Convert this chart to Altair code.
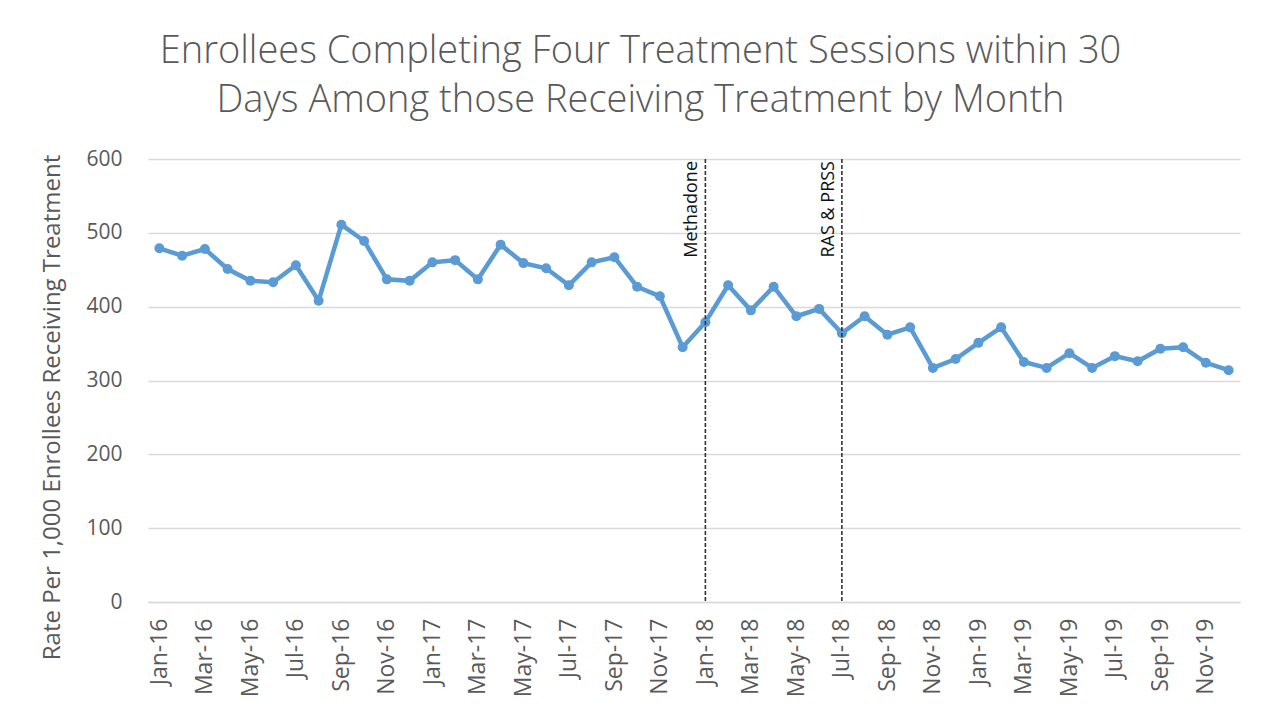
import altair as alt
import pandas as pd

months = ["Jan", "Feb", "Mar", "Apr", "May", "Jun", "Jul", "Aug", "Sep", "Oct", "Nov", "Dec"]
years = ["16", "17", "18", "19"]
labels = [f"{m}-{y}" for y in years for m in months]

rates = [479, 469, 478, 451, 435, 433, 456, 408, 511, 489, 437, 435,
         460, 463, 437, 484, 459, 452, 429, 460, 467, 427, 414, 345,
         379, 429, 395, 427, 387, 397, 364, 387, 362, 372, 317, 329,
         351, 372, 325, 317, 337, 317, 333, 326, 343, 345, 324, 314]

event_months = ["Jan-18", "Jul-18"]
event_names = ["Methadone", "RAS & PRSS"]
y_ticks = [0, 100, 200, 300, 400, 500, 600]

df = pd.DataFrame({"month": labels, "rate": rates})
ev = pd.DataFrame({"month": event_months, "name": event_names, "top": [600, 600], "bottom": [0, 0]})

tick_vals = labels[::2]

xscale = alt.Scale(type="point", domain=labels, padding=0.5)
yscale = alt.Scale(domain=[0, 600])

x_enc = alt.X("month:O", scale=xscale, sort=labels,
              axis=alt.Axis(values=tick_vals, labelAngle=-90, title=None, labelFontSize=23,
                            labelColor="#595959", labelFont="Open Sans", ticks=False,
                            domainColor="#D9D9D9", domainWidth=1.5, labelPadding=16,
                            grid=False, labelBaseline="middle", labelAlign="right"))

line = alt.Chart(df).mark_line(color="#5B9BD5", strokeWidth=4.5,
                               point=alt.OverlayMarkDef(color="#5B9BD5", size=100, opacity=1)).encode(
    x=x_enc,
    y=alt.Y("rate:Q", scale=yscale,
            axis=alt.Axis(values=y_ticks, title="Rate Per 1,000 Enrollees Receiving  Treatment",
                          titleFontSize=24, titleFont="Open Sans", titleFontWeight="normal", titleColor="#595959",
                          labelFontSize=21, labelFont="Open Sans", labelColor="#595959",
                          ticks=False, domain=False, gridColor="#D9D9D9", gridWidth=1.3,
                          labelPadding=26, titlePadding=21, titleY=248))
)

rules = alt.Chart(ev).mark_rule(color="#333333", strokeDash=[4, 2], strokeWidth=1.6).encode(
    x=alt.X("month:O", scale=xscale, sort=labels),
    y=alt.Y("top:Q", scale=yscale),
    y2="bottom:Q",
)

texts = alt.Chart(ev).mark_text(angle=270, align="right", baseline="alphabetic", fontSize=18,
                                font="Open Sans", color="#111111", dx=-2, dy=-8).encode(
    x=alt.X("month:O", scale=xscale, sort=labels),
    y=alt.Y("top:Q", scale=yscale),
    text="name:N",
)

chart = alt.layer(line, rules, texts).properties(
    width=1092, height=443,
    background="white",
    title=alt.TitleParams(
        text=["Enrollees Completing Four Treatment Sessions within 30",
              "Days Among those Receiving Treatment by Month"],
        fontSize=38, font="Open Sans", fontWeight=300, color="#595959",
        anchor="middle", frame="bounds", lineHeight=49, offset=28,
    ),
    autosize="none",
    padding={"left": 140, "top": 151, "right": 17, "bottom": 113},
).configure_view(strokeWidth=0, stroke=None)

chart.save("out.html", embed_options={"renderer": "svg", "actions": False})
